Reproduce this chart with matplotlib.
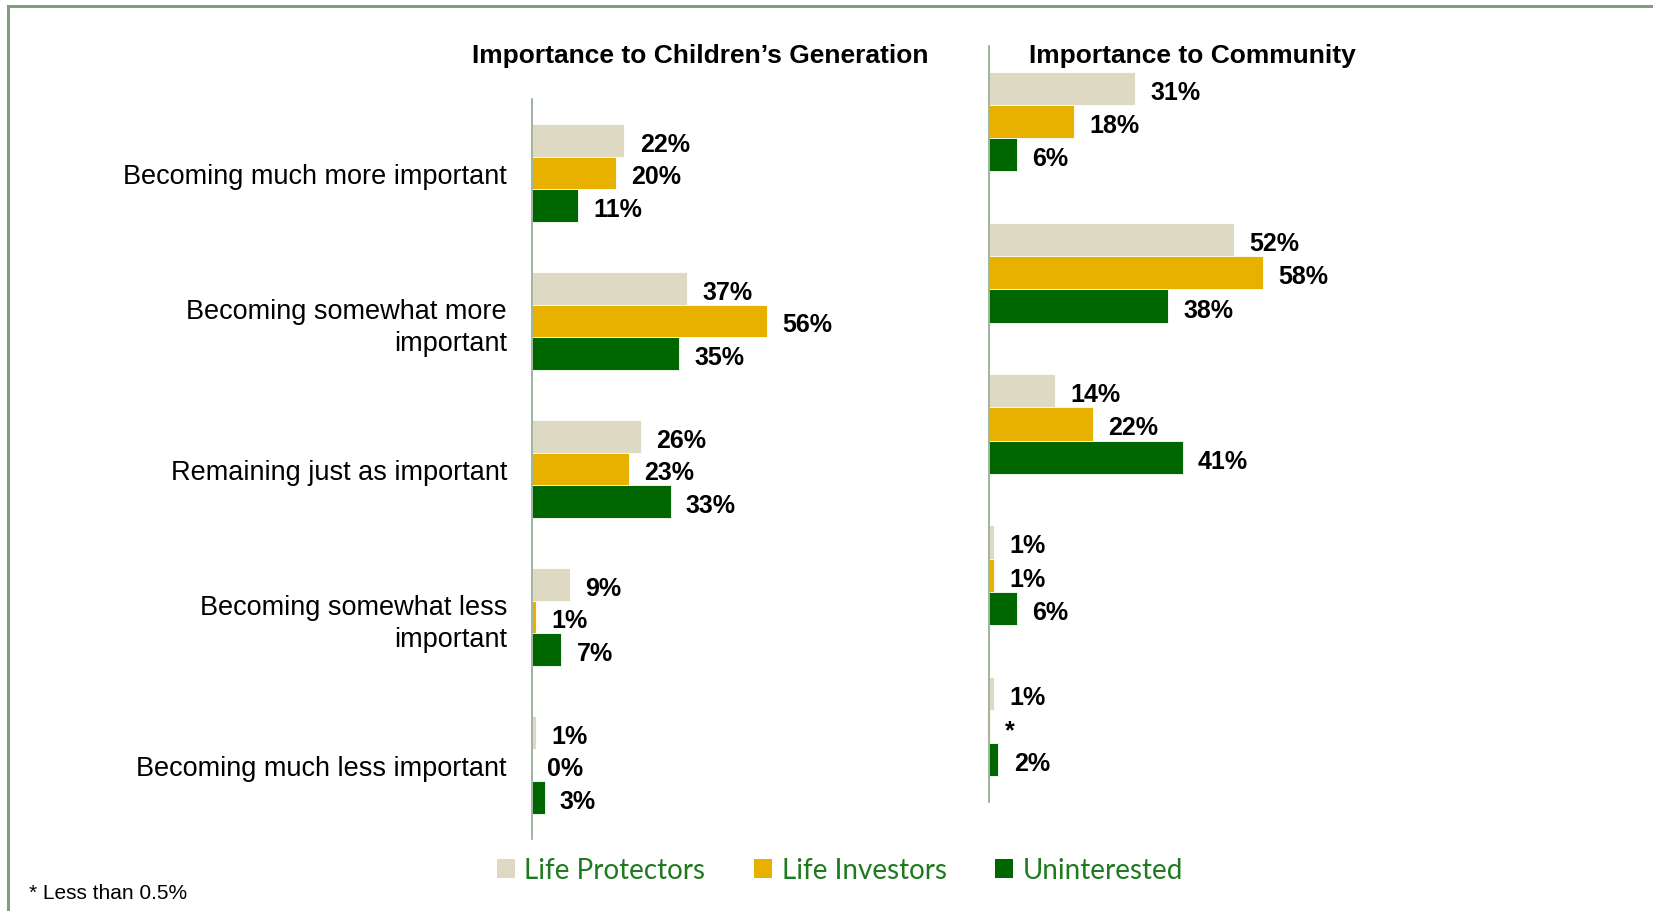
import matplotlib.pyplot as plt
from matplotlib.patches import Patch, Rectangle

categories = ['Becoming much more important',
              'Becoming somewhat more\nimportant',
              'Remaining just as important',
              'Becoming somewhat less\nimportant',
              'Becoming much less important']
segments = ['Life Protectors', 'Life Investors', 'Uninterested']
colors = ['#DDD9C3', '#E8B100', '#006600']

# Importance to Children's Generation (%)
children_protectors = [22, 37, 26, 9, 1]
children_investors = [20, 56, 23, 1, 0]
children_uninterested = [11, 35, 33, 7, 3]

# Importance to Community (%)
community_protectors = [31, 52, 14, 1, 1]
community_investors = [18, 58, 22, 1, 0.2]
community_uninterested = [6, 38, 41, 6, 2]
community_investors_labels = ['18%', '58%', '22%', '1%', '*']

W, H = 1653, 912
fig = plt.figure(figsize=(W / 100, H / 100), dpi=100)

# green frame around the slide
fig.patches.append(Rectangle((8 / W, -0.1), 1.2, 1 - 7 / H + 0.1, transform=fig.transFigure,
                             fill=False, edgecolor='#7EA07A', linewidth=2.2))

bh = 0.22
spine_col = '#8FA88F'


def draw_panel(ax, series, labels, xmax):
    for k, vals in enumerate(series):
        ys = [i + (k - 1) * bh for i in range(len(vals))]
        bars = ax.barh(ys, vals, height=bh, color=colors[k], edgecolor='white', linewidth=0.6)
        for b, lab in zip(bars, labels[k]):
            ax.annotate(lab, (b.get_width(), b.get_y() + b.get_height() / 2),
                        xytext=(11, -2.5), textcoords='offset points', ha='left', va='center',
                        fontsize=18, fontweight='bold', family='Liberation Sans')
    ax.set_xlim(0, xmax)
    ax.set_ylim(4.5, -0.5)
    ax.set_xticks([])
    for s in ['top', 'right', 'bottom']:
        ax.spines[s].set_visible(False)
    ax.spines['left'].set_color(spine_col)
    ax.spines['left'].set_linewidth(1.2)


ax1 = fig.add_axes([532 / W, 1 - 840 / H, 378 / W, 740 / H])
ch_series = [children_protectors, children_investors, children_uninterested]
ch_labels = [[f'{v}%' for v in s] for s in ch_series]
draw_panel(ax1, ch_series, ch_labels, 90)
ax1.set_yticks(range(len(categories)))
ax1.set_yticklabels(categories, fontsize=19.5, family='Liberation Sans')
ax1.tick_params(axis='y', length=0, pad=18)
for t in ax1.get_yticklabels():
    t.set_horizontalalignment('right')
    t.set_linespacing(1.3)

ax2 = fig.add_axes([989 / W, 1 - 803 / H, 472 / W, 756 / H])
cm_series = [community_protectors, community_investors, community_uninterested]
cm_labels = [[f'{v}%' for v in community_protectors],
             community_investors_labels,
             [f'{v}%' for v in community_uninterested]]
draw_panel(ax2, cm_series, cm_labels, 100)
ax2.set_yticks([])

fig.text(700 / W, 1 - 56 / H, 'Importance to Children\u2019s Generation', ha='center', va='center',
         fontsize=19, fontweight='bold', family='Liberation Sans')
fig.text(1192 / W, 1 - 56 / H, 'Importance to Community', ha='center', va='center',
         fontsize=19, fontweight='bold', family='Liberation Sans')

handles = [Patch(facecolor=c, edgecolor='none') for c in colors]
fig.legend(handles, segments, loc='center', bbox_to_anchor=(840 / W, 1 - 871 / H), ncol=3,
           frameon=False, prop={'family': 'Lato', 'size': 20}, labelcolor='#1F7A1F',
           handlelength=0.65, handleheight=0.65, handletextpad=0.35, columnspacing=1.75)

fig.text(29 / W, 1 - 894 / H, '* Less than 0.5%', ha='left', va='center', fontsize=15,
         family='Liberation Sans')

fig.savefig('out.png', dpi=100)
